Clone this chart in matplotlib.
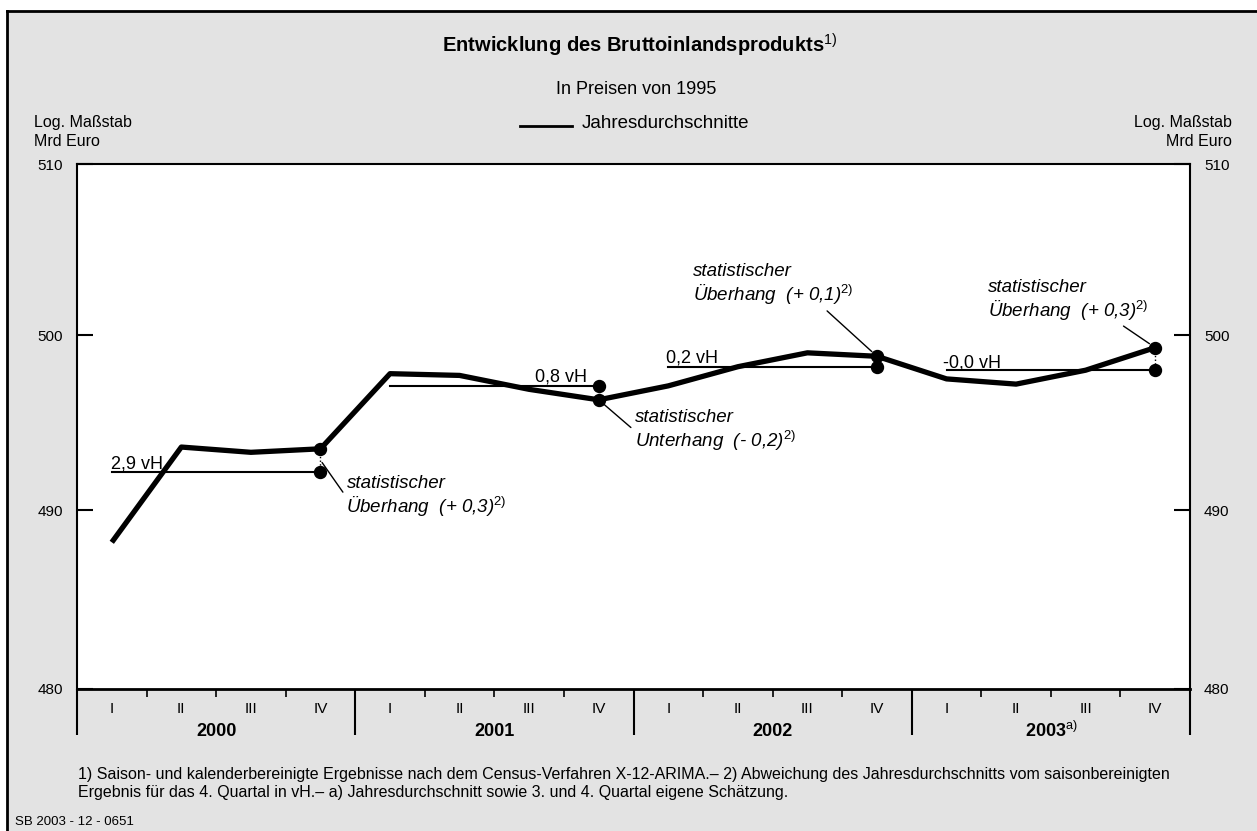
import numpy as np
import matplotlib.pyplot as plt
from matplotlib.lines import Line2D
from matplotlib.patches import Rectangle
from matplotlib.ticker import NullLocator, FixedLocator

plt.rcParams['font.family'] = ['Liberation Sans', 'DejaVu Sans']
plt.rcParams['mathtext.fontset'] = 'custom'
plt.rcParams['mathtext.rm'] = 'Liberation Sans'
plt.rcParams['mathtext.it'] = 'Liberation Sans:italic'
plt.rcParams['mathtext.bf'] = 'Liberation Sans:bold'

# data (Mrd Euro, prices of 1995)
quarters = ['I', 'II', 'III', 'IV']
years = ['2000', '2001', '2002', r'2003$^{\mathrm{a)}}$']
bip = [488.2, 493.6, 493.3, 493.5,
       497.8, 497.7, 496.9, 496.3,
       497.1, 498.2, 499.0, 498.8,
       497.5, 497.2, 498.0, 499.3]
annual = [492.2, 497.1, 498.2, 498.0]
growth = ['2,9 vH', '0,8 vH', '0,2 vH', '-0,0 vH']
hang_word = ['Überhang', 'Unterhang', 'Überhang', 'Überhang']
hang_val = ['+ 0,3', '- 0,2', '+ 0,1', '+ 0,3']
yticks = [480, 490, 500, 510]

W, H = 1257, 831
fig = plt.figure(figsize=(W / 100, H / 100), dpi=100)
fig.patch.set_facecolor('white')

# grey panel with black border on left and top
fig.patches.append(Rectangle((7 / W, 0), 1, 1 - 11 / H, transform=fig.transFigure,
                             facecolor='#e3e3e3', edgecolor='none', zorder=-10))
fig.add_artist(Line2D([7 / W, 7 / W], [0, 1 - 11 / H], color='black', lw=2))
fig.add_artist(Line2D([7 / W, 1], [1 - 11 / H, 1 - 11 / H], color='black', lw=2))

ax = fig.add_axes([77 / W, (H - 689) / H, (1190 - 77) / W, (689 - 164) / H])
ax.set_facecolor('white')
ax.set_yscale('log')
ax.set_ylim(yticks[0], yticks[-1])
n = len(bip)
ax.set_xlim(-0.5, n - 0.5)

ax.yaxis.set_major_locator(FixedLocator(yticks))
ax.yaxis.set_minor_locator(NullLocator())
ax.set_yticklabels([str(v) for v in yticks])
ax.tick_params(axis='y', direction='in', length=11.5, width=1.5, labelsize=11,
               pad=10, left=True, right=True, labelleft=True, labelright=True)

year_bounds = [4 * i - 0.5 for i in range(len(years) + 1)]
q_bounds = [4 * i + j + 0.5 for i in range(len(years)) for j in range(3)]
ax.xaxis.set_major_locator(FixedLocator(year_bounds))
ax.xaxis.set_minor_locator(FixedLocator(q_bounds))
ax.tick_params(axis='x', which='major', direction='out', length=33, width=1.5,
               labelbottom=False)
ax.tick_params(axis='x', which='minor', direction='out', length=6, width=1.2)
for s in ax.spines.values():
    s.set_linewidth(1.5)
ax.spines['bottom'].set_linewidth(2)

for i in range(n):
    ax.annotate(quarters[i % 4], xy=(i, 0), xycoords=('data', 'axes fraction'),
                xytext=(0, -20), textcoords='offset pixels', ha='center', va='center',
                fontsize=11)
for k, yr in enumerate(years):
    ax.annotate(yr, xy=(4 * k + 1.5, 0), xycoords=('data', 'axes fraction'),
                xytext=(0, -42), textcoords='offset pixels', ha='center', va='center',
                fontsize=13, fontweight='bold')

# quarterly series
ax.plot(range(n), bip, color='black', lw=3.8, zorder=3, solid_capstyle='butt')

# annual averages, overhang markers and labels
vh_off = [(-1, 3, 'left'), (-12, 4, 'right'), (-2, 4, 'left'), (-4, 3, 'left')]
txt_off = [(26, -37), (36, -31), (-184, 71), (-167, 47)]
relpos = [(0, 0.5), (0, 0.5), (0.81, 0), (0.81, 0)]
lead_mid = [True, False, False, False]
for k, avg in enumerate(annual):
    x0, x1 = 4 * k, 4 * k + 3
    ax.plot([x0, x1], [avg, avg], color='black', lw=1.5, zorder=2)
    ax.plot([x1, x1], [bip[x1], avg], color='black', lw=1, ls=':', zorder=2)
    ax.plot([x1, x1], [bip[x1], avg], 'o', color='black', ms=8.6, zorder=4)
    dx, dy, ha = vh_off[k]
    xa = x1 if ha == 'right' else x0
    ax.annotate(growth[k], xy=(xa, avg), xytext=(dx, dy), textcoords='offset pixels',
                ha=ha, va='baseline', fontsize=13)
    target = np.sqrt(bip[x1] * avg) if lead_mid[k] else bip[x1]
    ax.annotate('statistischer\n' + hang_word[k] + '  (' + hang_val[k] + r')$^{\mathit{2)}}$',
                xy=(x1, target), xytext=txt_off[k], textcoords='offset pixels',
                ha='left', va='center', fontsize=13.5, fontstyle='italic', linespacing=1.15,
                arrowprops=dict(arrowstyle='-', color='black', lw=1, relpos=relpos[k],
                                shrinkA=1, shrinkB=2 if lead_mid[k] else 5), zorder=5)

# header texts
fig.text(640 / W, 1 - 45 / H, r'Entwicklung des Bruttoinlandsprodukts$^{\mathrm{1)}}$',
         ha='center', va='center', fontsize=14.5, fontweight='bold')
fig.text(636 / W, 1 - 90 / H, 'In Preisen von 1995', ha='center', va='center', fontsize=13)
fig.add_artist(Line2D([520 / W, 572 / W], [1 - 126 / H, 1 - 126 / H], color='black', lw=2))
fig.text(582 / W, 1 - 124 / H, 'Jahresdurchschnitte', ha='left', va='center', fontsize=13.5)
fig.text(34 / W, 1 - 123 / H, 'Log. Maßstab', ha='left', va='center', fontsize=11.5)
fig.text(34 / W, 1 - 141 / H, 'Mrd Euro', ha='left', va='center', fontsize=11.5)
fig.text(1232 / W, 1 - 123 / H, 'Log. Maßstab', ha='right', va='center', fontsize=11.5)
fig.text(1232 / W, 1 - 141 / H, 'Mrd Euro', ha='right', va='center', fontsize=11.5)

# footnotes
fig.text(78 / W, 1 - 774 / H,
         '1) Saison- und kalenderbereinigte Ergebnisse nach dem Census-Verfahren X-12-ARIMA.– '
         '2) Abweichung des Jahresdurchschnitts vom saisonbereinigten',
         ha='left', va='center', fontsize=11.5)
fig.text(78 / W, 1 - 792 / H,
         'Ergebnis für das 4. Quartal in vH.– a) Jahresdurchschnitt sowie 3. und 4. Quartal '
         'eigene Schätzung.', ha='left', va='center', fontsize=11.5)
fig.text(15 / W, 1 - 822 / H, 'SB 2003 - 12 - 0651', ha='left', va='center', fontsize=9.5)

fig.savefig('out.png', dpi=100, facecolor=fig.get_facecolor())
